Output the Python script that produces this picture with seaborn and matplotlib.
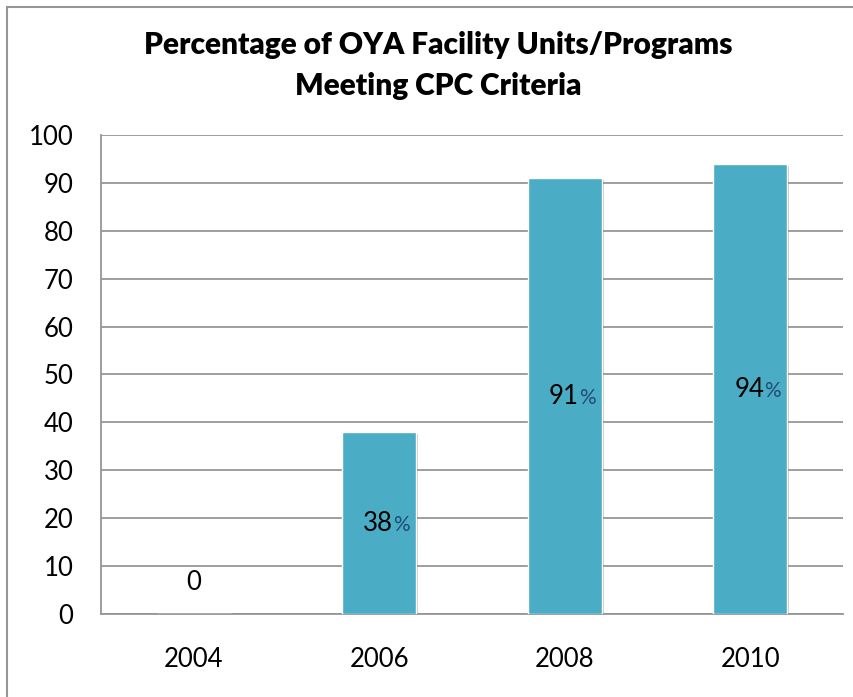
import matplotlib.pyplot as plt
import matplotlib.patheffects as pe
import pandas as pd
import seaborn as sns

years = ['2004', '2006', '2008', '2010']
pct = [0, 38, 91, 94]

datos = pd.DataFrame({'Year': years, 'Pct': pct})

sns.set_style('white')
plt.rcParams['font.family'] = ['Lato', 'DejaVu Sans']

fig = plt.figure(figsize=(8.54, 6.97), dpi=100)
ax = fig.add_axes([0.1183, 0.1191, 0.8688, 0.6872])

sns.barplot(data=datos, x='Year', y='Pct', color='#4BACC6', saturation=1,
            width=0.4, ax=ax, zorder=3)
for bar in ax.patches:
    if bar.get_height() > 0:
        bar.set_path_effects([pe.SimplePatchShadow(offset=(1.5, -1.5), alpha=0.25), pe.Normal()])

ax.set_ylim(0, 100)
ax.set_yticks(range(0, 101, 10))
ax.grid(axis='y', color='#969696', linewidth=1.3, zorder=0)
ax.set_axisbelow(True)
for s in ['top', 'right']:
    ax.spines[s].set_visible(False)
for s in ['left', 'bottom']:
    ax.spines[s].set_color('#969696')
    ax.spines[s].set_linewidth(1.3)
ax.tick_params(axis='both', length=0, labelsize=18.5, colors='black')
ax.tick_params(axis='y', pad=20)
ax.tick_params(axis='x', pad=24)
ax.set_xlabel('')
ax.set_ylabel('')

# data labels: number in black, % sign smaller in dark blue
for i, v in enumerate(pct):
    if v == 0:
        ax.annotate('0', (i, 0), xytext=(0, 17), textcoords='offset points',
                    ha='center', va='baseline', fontsize=18.5, color='black')
        continue
    ax.annotate(str(v), (i, v / 2), xytext=(10, -6), textcoords='offset points',
                ha='right', va='baseline', fontsize=18.5, color='black', zorder=5)
    ax.annotate('%', (i, v / 2), xytext=(10, -6), textcoords='offset points',
                ha='left', va='baseline', fontsize=15, color='#1F4E79', zorder=5)

fig.text(0.513, 0.935, 'Percentage of OYA Facility Units/Programs',
         ha='center', va='center', fontsize=21.5, fontweight='heavy', color='black')
fig.text(0.513, 0.877, 'Meeting CPC Criteria',
         ha='center', va='center', fontsize=21.5, fontweight='heavy', color='black')

# outer chart border
fig.patches.append(plt.Rectangle((7 / 854, -0.01), 1.0, 1 - 7 / 697 + 0.01,
                                 transform=fig.transFigure, fill=False,
                                 edgecolor='#969696', linewidth=1.5))

fig.savefig('out.png', dpi=100)
